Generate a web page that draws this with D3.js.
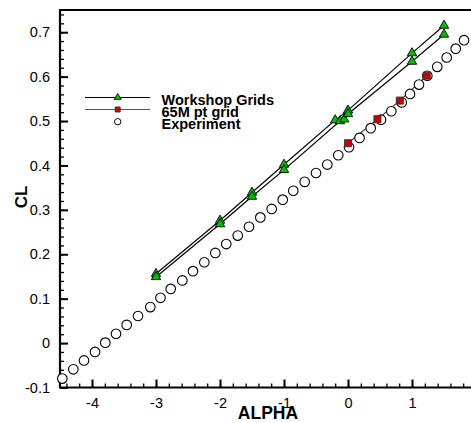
<!DOCTYPE html>
<html>
<head>
<meta charset="utf-8">
<script src="https://cdn.jsdelivr.net/npm/d3@7"></script>
<style>
  html, body { margin: 0; padding: 0; background: #fff; }
  svg { display: block; font-family: "Liberation Sans", Arial, Helvetica, sans-serif; }
</style>
</head>
<body>
<svg id="chart" width="471" height="423"></svg>
<script>
// ---- data ----
const alphaTicks = [-4, -3, -2, -1, 0, 1];
const clTicks = [-0.1, 0, 0.1, 0.2, 0.3, 0.4, 0.5, 0.6, 0.7];

const expAlpha = [-4.464, -4.292, -4.125, -3.953, -3.792, -3.625, -3.458, -3.281, -3.089, -2.930,
  -2.770, -2.589, -2.422, -2.245, -2.073, -1.902, -1.723, -1.547, -1.370, -1.192,
  -1.020, -0.855, -0.677, -0.500, -0.323, -0.152, 0.016, 0.180, 0.355, 0.516,
  0.677, 0.839, 0.969, 1.109, 1.239, 1.395, 1.542, 1.683, 1.813];
const expCL = [-0.080, -0.059, -0.039, -0.020, 0.001, 0.021, 0.041, 0.061, 0.081, 0.102,
  0.122, 0.141, 0.162, 0.182, 0.203, 0.223, 0.242, 0.262, 0.283, 0.302,
  0.323, 0.343, 0.363, 0.383, 0.402, 0.423, 0.441, 0.462, 0.484, 0.503,
  0.522, 0.542, 0.561, 0.582, 0.602, 0.622, 0.643, 0.663, 0.682];

const wsUpperAlpha = [-3, -2, -1.5, -1, -0.2, 0, 1, 1.5];
const wsUpperCL = [0.156, 0.276, 0.339, 0.402, 0.502, 0.524, 0.653, 0.715];
const wsLowerAlpha = [-3, -2, -1.5, -1, -0.125, -0.06, 0, 1, 1.5];
const wsLowerCL = [0.149, 0.268, 0.330, 0.390, 0.500, 0.504, 0.516, 0.634, 0.695];

const gridAlpha = [0, 0.46, 0.81, 1.23];
const gridCL = [0.450, 0.504, 0.546, 0.602];

const legendLabels = ["Workshop Grids", "65M pt grid", "Experiment"];

// ---- layout ----
const svg = d3.select("#chart");
const x = d3.scaleLinear().domain([-4.5, 2]).range([60, 476]);
const y = d3.scaleLinear().domain([-0.1, 0.75]).range([387.5, 10]);

const fmt = d => (Math.abs(d) < 1e-9 ? "0" : String(+d.toFixed(1)));

// minor ticks
const xMinor = d3.range(-4.4, 1.95, 0.2).map(v => +v.toFixed(2));
const yMinor = d3.range(-0.08, 0.75, 0.02).map(v => +v.toFixed(3));

svg.append("g").attr("transform", `translate(0,${y(-0.1)})`)
  .call(d3.axisBottom(x).tickValues(xMinor).tickSize(-4).tickFormat(""))
  .call(g => g.select(".domain").remove())
  .selectAll("line").attr("stroke", "#000").attr("stroke-width", 1.3);
svg.append("g").attr("transform", `translate(${x(-4.5)},0)`)
  .call(d3.axisLeft(y).tickValues(yMinor).tickSize(-4).tickFormat(""))
  .call(g => g.select(".domain").remove())
  .selectAll("line").attr("stroke", "#000").attr("stroke-width", 1.3);

const xAxis = svg.append("g").attr("transform", `translate(0,${y(-0.1)})`)
  .call(d3.axisBottom(x).tickValues(alphaTicks).tickSize(-8).tickPadding(10).tickFormat(fmt));
xAxis.select(".domain").remove();
xAxis.selectAll("line").attr("stroke", "#000").attr("stroke-width", 2);
xAxis.selectAll("text").attr("font-size", 14.5).attr("fill", "#000")
  .attr("font-family", "Liberation Sans, Arial, sans-serif");

const yAxis = svg.append("g").attr("transform", `translate(${x(-4.5)},0)`)
  .call(d3.axisLeft(y).tickValues(clTicks).tickSize(-8).tickPadding(10).tickFormat(fmt));
yAxis.select(".domain").remove();
yAxis.selectAll("line").attr("stroke", "#000").attr("stroke-width", 2);
yAxis.selectAll("text").attr("font-size", 14.5).attr("fill", "#000")
  .attr("font-family", "Liberation Sans, Arial, sans-serif");

// frame
const frame = svg.append("g").attr("stroke", "#000").attr("stroke-width", 2.2).attr("fill", "none");
frame.append("line").attr("x1", x(-4.5)).attr("x2", x(-4.5)).attr("y1", y(0.75)).attr("y2", y(-0.1));
frame.append("line").attr("x1", x(-4.5) - 1).attr("x2", 471).attr("y1", y(0.75)).attr("y2", y(0.75));
frame.append("line").attr("x1", x(-4.5) - 1).attr("x2", 471).attr("y1", y(-0.1)).attr("y2", y(-0.1));

// axis titles
svg.append("text").attr("x", 268).attr("y", 419).attr("text-anchor", "middle")
  .attr("font-size", 17.5).attr("font-weight", "bold").text("ALPHA");
svg.append("text").attr("transform", `translate(27,197) rotate(-90)`).attr("text-anchor", "middle")
  .attr("font-size", 17).attr("font-weight", "bold").text("CL");

// series
const line = d3.line().x(d => x(d[0])).y(d => y(d[1]));
const zip = (a, b) => a.map((v, i) => [v, b[i]]);

const upper = zip(wsUpperAlpha, wsUpperCL);
const lower = zip(wsLowerAlpha, wsLowerCL);
const grid = zip(gridAlpha, gridCL);
const exp = zip(expAlpha, expCL);

svg.append("path").datum(upper).attr("d", line).attr("fill", "none").attr("stroke", "#000").attr("stroke-width", 1.2);
svg.append("path").datum(lower).attr("d", line).attr("fill", "none").attr("stroke", "#000").attr("stroke-width", 1.2);
svg.append("path").datum(grid).attr("d", line).attr("fill", "none").attr("stroke", "#444").attr("stroke-width", 1.2);

svg.append("g").selectAll("circle").data(exp).join("circle")
  .attr("cx", d => x(d[0])).attr("cy", d => y(d[1])).attr("r", 4.8)
  .attr("fill", "#fff").attr("stroke", "#000").attr("stroke-width", 1.1);

const tri = d3.symbol().type(d3.symbolTriangle).size(38);
svg.append("g").selectAll("path").data(upper.concat(lower)).join("path")
  .attr("d", tri).attr("transform", d => `translate(${x(d[0])},${y(d[1])})`)
  .attr("fill", "#00c000").attr("stroke", "#000").attr("stroke-width", 0.9);

const sq = d3.symbol().type(d3.symbolSquare).size(50);
svg.append("g").selectAll("path").data(grid).join("path")
  .attr("d", sq).attr("transform", d => `translate(${x(d[0])},${y(d[1])})`)
  .attr("fill", "#d00000").attr("stroke", "#333").attr("stroke-width", 0.9);

// legend
const lg = svg.append("g");
const ly = [97.5, 109.5, 121.7];
lg.append("line").attr("x1", 85).attr("x2", 150).attr("y1", ly[0]).attr("y2", ly[0]).attr("stroke", "#000").attr("stroke-width", 1.2);
lg.append("line").attr("x1", 85).attr("x2", 150).attr("y1", ly[1]).attr("y2", ly[1]).attr("stroke", "#555").attr("stroke-width", 1.2);
lg.append("path").attr("d", d3.symbol().type(d3.symbolTriangle).size(22)).attr("transform", `translate(117.7,${ly[0]})`)
  .attr("fill", "#00c000").attr("stroke", "#000").attr("stroke-width", 0.8);
lg.append("path").attr("d", d3.symbol().type(d3.symbolSquare).size(26)).attr("transform", `translate(117.7,${ly[1]})`)
  .attr("fill", "#d00000").attr("stroke", "#333").attr("stroke-width", 0.8);
lg.append("circle").attr("cx", 117.7).attr("cy", ly[2]).attr("r", 3.2).attr("fill", "#fff").attr("stroke", "#000").attr("stroke-width", 1);
lg.selectAll("text").data(legendLabels).join("text")
  .attr("x", 161.5).attr("y", (d, i) => ly[i] + 7)
  .attr("font-size", 14.5).attr("font-weight", "bold").text(d => d);
</script>
</body>
</html>
